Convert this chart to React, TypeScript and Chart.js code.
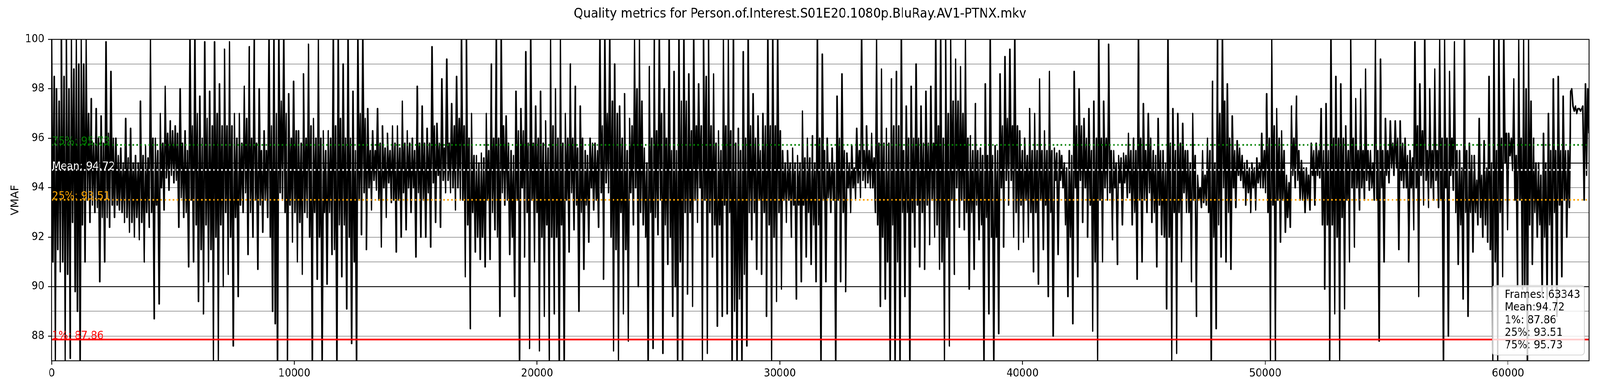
import React, { useEffect, useRef } from 'react';
import { Chart, registerables } from 'chart.js';

Chart.register(...registerables);

const TITLE = 'Quality metrics for Person.of.Interest.S01E20.1080p.BluRay.AV1-PTNX.mkv';
const Y_LABEL = 'VMAF';
const X_MAX = 63342;
const X_TICKS = [0, 10000, 20000, 30000, 40000, 50000, 60000];
const Y_MIN = 87;
const Y_MAX = 100;
const Y_GRID = [87, 88, 89, 90, 91, 92, 93, 94, 95, 96, 97, 98, 99, 100];
const Y_LABELED = [88, 90, 92, 94, 96, 98, 100];
const Y_DARK = [90, 95];

const REF_NAMES = ['75%', 'Mean', '25%', '1%'];
const REF_VALUES = [95.73, 94.72, 93.51, 87.86];
const REF_COLORS = ['#008000', '#ffffff', '#ffa500', '#ff0000'];
const REF_DOTTED = [true, true, true, false];

const STATS_LINES = ['Frames: 63343', 'Mean:94.72', '1%: 87.86', '25%: 93.51', '75%: 95.73'];

// VMAF trace, four samples per ~200 frames, in drawing order
const SEG_0 = [
  100, 91.0, 98.5, 87, 98.0, 91.5, 97.5, 90.6, 100, 91.0, 98.5, 87, 100, 90.5, 98.0, 87.1,
  100, 92.6, 98.8, 89.8, 100, 89.0, 99.0, 87, 100, 92.5, 99.0, 91.0, 100, 93.5, 97.0, 92.6,
  97.6, 93.3, 95.8, 93.0, 97.2, 93.2, 96.0, 90.2, 96.9, 92.8, 95.8, 91.0, 99.9, 92.8, 96.2, 92.4,
  98.7, 93.3, 96.0, 92.8, 96.0, 93.3, 95.3, 93.1, 95.6, 93.0, 95.0, 92.6, 96.8, 92.8, 95.2, 92.2,
  96.4, 92.6, 95.0, 92.0, 95.3, 92.8, 95.0, 91.9, 97.5, 92.6, 95.3, 91.0, 95.7, 93.0, 95.2, 92.4,
  100, 93.0, 96.0, 88.7, 96.0, 93.3, 95.5, 89.3, 97.0, 94.0, 95.8, 93.1, 98.1, 94.4, 96.2, 93.9,
  96.7, 94.5, 96.3, 94.2, 96.5, 94.3, 96.2, 92.4, 98.0, 93.6, 95.8, 92.8, 96.3, 93.0, 95.5, 90.8,
  100, 93.5, 96.5, 91.0, 100, 92.5, 97.0, 89.4, 97.7, 91.5, 96.0, 88.9, 99.9, 92.5, 96.8, 90.2,
  97.9, 91.5, 96.5, 87, 99.9, 92.0, 97.0, 87, 98.2, 92.5, 96.5, 90.0, 99.6, 93.0, 96.5, 90.5,
  99.9, 92.0, 96.5, 87.6, 97.0, 92.8, 96.0, 89.6, 97.0, 93.3, 95.8, 93.0,
];
const SEG_1 = [
  98.1, 93.8, 96.8, 91.3, 99.7, 93.0, 96.0, 92.0, 100, 93.5, 95.8, 90.7, 98.0, 93.3, 95.5, 92.2,
  96.3, 93.5, 95.5, 92.8, 100, 92.0, 96.5, 89.0, 100, 88.5, 97.0, 87, 100, 93.8, 97.5, 93.5,
  100, 93.0, 97.0, 87, 97.8, 93.3, 96.0, 91.8, 98.3, 93.0, 96.3, 91.0, 96.3, 92.6, 95.8, 90.5,
  98.6, 93.0, 96.0, 92.8, 99.8, 92.0, 96.5, 87, 96.8, 93.0, 96.0, 90.3, 100, 92.0, 96.0, 87,
  96.3, 93.0, 95.5, 90.1, 96.3, 93.0, 96.0, 91.3, 100, 91.5, 96.5, 87, 100, 92.5, 96.8, 90.4,
  99.0, 92.5, 96.0, 89.1, 100, 92.0, 96.0, 87.7, 97.9, 91.0, 95.5, 87, 100, 93.5, 97.0, 92.1,
  100, 93.8, 96.8, 91.5, 97.2, 94.0, 95.5, 93.1, 96.3, 94.3, 95.5, 93.9, 97.2, 93.5, 95.8, 91.6,
  96.5, 94.0, 95.6, 92.8, 96.2, 94.2, 95.5, 93.4, 96.5, 93.5, 95.8, 91.4, 96.5, 93.5, 95.6, 92.0,
  97.5, 93.8, 95.8, 92.3, 96.3, 94.0, 95.8, 93.0, 96.0, 94.0, 95.5, 91.2, 98.1, 93.8, 95.8, 92.0,
  97.3, 93.5, 95.8, 92.0, 96.4, 93.8, 95.8, 91.6, 99.7, 94.2, 96.5, 92.6,
];
const SEG_2 = [
  96.6, 94.5, 95.8, 92.4, 98.4, 94.3, 95.6, 93.8, 99.2, 94.3, 95.8, 93.8, 97.4, 94.0, 96.5, 93.1,
  98.5, 94.0, 96.8, 93.5, 100, 93.5, 96.5, 90.4, 100, 92.5, 96.0, 88.3, 97.0, 93.0, 95.3, 91.4,
  95.3, 92.0, 95.0, 91.1, 95.4, 92.0, 95.2, 90.8, 97.0, 93.5, 95.5, 91.1, 99.0, 93.0, 96.0, 92.3,
  100, 92.0, 96.0, 88.8, 100, 93.8, 96.5, 93.3, 96.9, 93.5, 95.8, 91.3, 95.5, 92.0, 95.3, 89.6,
  97.9, 93.5, 96.3, 87, 97.2, 94.0, 96.3, 91.2, 99.5, 93.0, 95.8, 87.5, 100, 93.5, 95.8, 91.0,
  97.3, 93.0, 96.0, 87.4, 97.9, 92.0, 95.8, 88.8, 96.7, 92.5, 95.6, 87, 100, 92.0, 96.5, 88.9,
  98.0, 92.0, 96.0, 87, 100, 92.5, 95.8, 87, 97.0, 93.5, 96.0, 91.4, 99.0, 93.8, 96.0, 92.3,
  98.1, 93.3, 95.6, 89.0, 97.3, 93.0, 96.0, 90.7, 95.5, 93.3, 95.3, 91.8, 96.0, 94.0, 95.8, 93.1,
  95.8, 93.5, 95.5, 92.4, 100, 93.8, 96.5, 90.3, 100, 94.2, 97.0, 93.8, 100, 92.0, 97.5, 87.4,
  99.0, 91.5, 97.0, 87, 97.3, 93.0, 96.0, 88.9, 97.8, 91.5, 95.5, 87.8,
];
const SEG_3 = [
  96.8, 93.8, 96.5, 92.5, 100, 94.0, 98.0, 90.0, 100, 93.0, 97.5, 92.5, 95.6, 92.0, 95.0, 87,
  98.9, 93.0, 96.0, 87.5, 100, 92.8, 96.3, 92.1, 100, 93.5, 97.0, 87.3, 98.0, 92.5, 96.0, 90.9,
  100, 92.0, 95.5, 88.8, 98.7, 90.0, 95.5, 87, 100, 91.0, 97.5, 87, 100, 93.0, 97.5, 89.7,
  98.6, 93.0, 96.3, 89.2, 100, 93.5, 96.5, 92.6, 98.2, 94.0, 96.5, 87, 100, 93.5, 98.5, 87.3,
  100, 93.0, 96.5, 91.2, 98.6, 92.5, 95.8, 88.4, 96.3, 92.5, 95.5, 88.8, 100, 93.3, 96.5, 88.9,
  100, 93.0, 96.3, 87, 100, 89.0, 95.8, 87, 96.4, 89.5, 95.5, 87, 99.5, 90.5, 96.0, 87.6,
  100, 93.0, 96.5, 91.9, 97.8, 93.0, 96.0, 90.7, 96.9, 93.5, 95.5, 90.5, 97.0, 93.0, 96.5, 88.8,
  100, 92.5, 96.5, 87, 100, 92.0, 96.5, 89.4, 100, 93.0, 96.3, 89.9, 95.5, 93.5, 95.0, 92.6,
  95.5, 93.5, 95.0, 92.0, 95.6, 93.3, 95.0, 89.5, 95.3, 93.3, 95.0, 90.2, 97.1, 93.3, 95.2, 91.2,
  96.0, 93.0, 95.2, 90.9, 96.1, 92.5, 95.0, 90.2, 100, 92.5, 96.0, 87,
];
const SEG_4 = [
  99.4, 93.5, 95.5, 90.2, 96.0, 93.6, 95.0, 93.0, 95.6, 93.5, 95.0, 87, 97.7, 93.5, 96.0, 90.2,
  98.6, 93.0, 95.5, 89.8, 95.4, 94.0, 95.0, 93.0, 95.7, 94.0, 94.8, 93.5, 96.4, 94.2, 95.5, 93.6,
  100, 94.3, 95.5, 94.0, 96.5, 94.2, 95.5, 94.0, 96.2, 94.0, 95.2, 93.0, 100, 92.5, 95.8, 89.2,
  98.8, 92.0, 95.8, 89.5, 96.4, 91.0, 95.8, 87, 98.4, 92.5, 96.5, 87, 98.7, 91.0, 96.5, 87,
  100, 93.0, 95.5, 89.6, 97.3, 93.0, 96.0, 87, 98.1, 93.0, 96.0, 91.6, 99.0, 93.3, 96.0, 90.8,
  97.3, 93.0, 95.8, 90.7, 97.9, 93.3, 95.8, 91.7, 98.1, 93.5, 95.8, 92.0, 100, 92.5, 96.5, 90.7,
  100, 91.0, 96.0, 87, 100, 92.0, 97.0, 87.6, 100, 93.5, 97.5, 90.5, 99.2, 94.0, 97.5, 92.4,
  98.9, 93.5, 97.0, 92.3, 100, 93.0, 96.0, 89.9, 96.1, 93.0, 95.5, 90.7, 97.4, 93.3, 95.5, 91.9,
  95.6, 92.5, 95.3, 87, 98.2, 92.8, 95.3, 88.9, 100, 92.0, 95.3, 87, 95.7, 92.0, 95.5, 88.1,
  98.6, 94.0, 96.5, 91.6, 99.3, 94.3, 96.8, 93.3, 99.6, 94.3, 96.5, 92.0,
];
const SEG_5 = [
  100, 93.0, 96.5, 91.5, 96.3, 93.3, 95.5, 91.8, 96.0, 93.5, 95.3, 92.0, 97.2, 93.0, 95.5, 90.6,
  97.0, 93.0, 95.5, 90.1, 98.4, 93.5, 95.5, 91.5, 96.3, 93.3, 95.5, 89.6, 98.7, 93.0, 95.5, 88.0,
  95.6, 94.3, 95.4, 91.3, 95.5, 94.3, 95.3, 94.0, 95.0, 92.5, 94.8, 89.6, 95.5, 92.0, 95.3, 88.5,
  98.7, 94.0, 96.5, 90.4, 98.0, 94.3, 96.5, 92.6, 96.8, 94.0, 96.0, 92.0, 97.2, 93.3, 95.5, 88.2,
  97.5, 91.0, 96.0, 87, 100, 93.5, 96.0, 91.0, 97.5, 94.0, 96.0, 93.5, 99.8, 93.8, 95.5, 91.9,
  95.5, 94.0, 95.0, 90.9, 95.3, 94.2, 95.2, 92.5, 95.4, 94.2, 95.3, 93.6, 96.2, 93.8, 95.5, 92.5,
  96.0, 93.0, 95.5, 90.3, 100, 93.5, 96.0, 91.0, 97.4, 93.5, 95.5, 93.0, 97.0, 93.8, 96.0, 92.6,
  95.5, 93.0, 95.3, 90.8, 96.8, 93.3, 95.5, 92.1, 95.5, 92.0, 95.0, 89.1, 100, 92.0, 95.8, 87,
  97.2, 93.0, 95.5, 87.3, 97.0, 93.0, 95.8, 91.0, 96.6, 93.8, 95.5, 93.0, 95.5, 93.0, 95.0, 90.2,
  97.0, 93.5, 95.3, 88.8, 94.5, 93.5, 94.0, 93.2, 95.5, 93.4, 94.5, 93.3,
];
const SEG_6 = [
  96.0, 93.0, 95.5, 87, 98.3, 92.0, 95.0, 88.3, 100, 92.5, 97.0, 91.2, 100, 94.0, 97.5, 91.0,
  98.2, 93.0, 96.0, 90.7, 96.9, 94.0, 95.5, 93.2, 95.9, 94.5, 95.6, 94.3, 95.3, 94.0, 95.0, 93.3,
  95.1, 93.8, 94.8, 93.0, 95.0, 94.0, 94.8, 93.1, 95.2, 94.2, 95.0, 94.0, 96.2, 94.0, 95.5, 93.8,
  97.8, 93.0, 96.0, 87, 100, 93.3, 96.5, 87, 97.2, 93.5, 96.0, 91.8, 96.3, 93.5, 95.5, 92.2,
  94.5, 92.8, 94.2, 92.4, 97.3, 94.5, 96.0, 94.0, 97.7, 94.3, 95.5, 93.5, 95.1, 93.5, 94.8, 93.0,
  94.8, 93.5, 94.5, 93.1, 95.8, 94.5, 95.5, 93.3, 95.8, 94.5, 95.5, 94.4, 97.2, 92.5, 95.5, 89.9,
  97.4, 92.5, 95.5, 87, 100, 92.5, 96.0, 88.9, 98.5, 92.0, 96.0, 87, 98.2, 92.8, 96.0, 89.1,
  96.5, 93.5, 95.5, 91.0, 100, 94.0, 96.0, 91.6, 97.6, 94.0, 95.5, 93.1, 98.0, 94.0, 95.5, 93.5,
  98.8, 94.3, 95.5, 93.9, 95.5, 94.0, 95.0, 93.5, 100, 93.5, 95.5, 87.8, 99.2, 94.0, 95.5, 91.0,
  96.8, 94.5, 95.5, 94.2, 96.7, 94.8, 95.8, 94.5, 96.7, 94.8, 96.0, 91.5,
];
const SEG_7 = [
  96.7, 94.3, 95.8, 94.0, 96.0, 94.0, 95.3, 91.0, 95.5, 94.0, 95.2, 92.3, 99.9, 94.0, 96.5, 89.6,
  98.2, 94.5, 96.3, 93.3, 100, 94.3, 95.5, 93.2, 98.0, 94.0, 95.5, 93.5, 98.8, 94.3, 95.5, 93.2,
  100, 93.5, 96.0, 87, 100, 94.0, 96.0, 88.0, 98.7, 94.5, 96.0, 93.9, 99.9, 93.0, 95.5, 90.9,
  95.5, 92.5, 94.8, 89.5, 100, 93.0, 95.5, 88.8, 95.8, 93.0, 95.3, 91.4, 95.3, 93.0, 94.3, 92.5,
  96.8, 92.8, 94.5, 92.0, 95.9, 92.5, 94.8, 91.8, 98.5, 91.5, 95.0, 87, 100, 91.0, 95.5, 87,
  100, 93.0, 96.0, 90.4, 100, 95.0, 96.2, 92.3, 96.2, 95.3, 96.0, 94.7, 98.4, 93.5, 95.3, 90.0,
  100, 93.5, 96.0, 89.9, 100, 90.0, 98.0, 87, 100, 92.5, 97.5, 90.9, 96.0, 93.0, 95.0, 92.0,
  95.0, 92.5, 94.5, 89.6, 96.2, 92.0, 95.0, 89.5, 97.0, 92.5, 95.5, 89.8, 98.4, 93.0, 95.5, 88.8,
  98.5, 93.3, 95.5, 90.4, 97.7, 93.5, 95.5, 92.0, 95.5, 93.2, 97.9, 98.0, 97.3, 97.1, 97.3, 97.0,
  97.2, 97.2, 97.1, 97.2, 97.3, 93.5, 98.2, 94.5, 98.0, 96.2,
];

const VMAF = [...SEG_0, ...SEG_1, ...SEG_2, ...SEG_3, ...SEG_4, ...SEG_5, ...SEG_6, ...SEG_7];

const FONT = '"DejaVu Sans", "Liberation Sans", sans-serif';
const TICK_PX = 27.8;
const DESIGN_W = 4400;
const DESIGN_H = 1000;

export default function App() {
  const canvasRef = useRef<HTMLCanvasElement | null>(null);
  const sx = typeof window !== 'undefined' && window.innerWidth ? window.innerWidth / DESIGN_W : 1;
  const sy = typeof window !== 'undefined' && window.innerHeight ? window.innerHeight / DESIGN_H : 1;

  useEffect(() => {
    document.documentElement.style.overflow = 'hidden';
    document.body.style.overflow = 'hidden';
    const canvas = canvasRef.current;
    if (!canvas) return;
    const step = X_MAX / (VMAF.length - 1);
    const trace = VMAF.map((v, i) => ({ x: i * step, y: v }));

    const refSets = REF_VALUES.map((v, i) => ({
      label: REF_NAMES[i],
      data: [{ x: 0, y: v }, { x: X_MAX, y: v }],
      borderColor: REF_COLORS[i],
      borderWidth: 4.2,
      borderDash: REF_DOTTED[i] ? [4.2, 6.9] : [],
      borderCapStyle: 'butt' as const,
      pointRadius: 0,
      fill: false,
      clip: 0,
      order: 3 - i,
    }));

    const overlay = {
      id: 'overlay',
      afterDatasetsDraw(chart: any) {
        const { ctx, chartArea: a, scales } = chart;
        const y = scales.y;
        ctx.save();
        ctx.font = `${TICK_PX}px ${FONT}`;
        ctx.textAlign = 'left';
        ctx.textBaseline = 'alphabetic';
        REF_VALUES.forEach((v, i) => {
          ctx.fillStyle = REF_COLORS[i];
          ctx.fillText(`${REF_NAMES[i]}: ${v.toFixed(2)}`, a.left + 1, y.getPixelForValue(v) - 1);
        });
        ctx.strokeStyle = '#000';
        ctx.lineWidth = 2.2;
        ctx.strokeRect(a.left, a.top, a.right - a.left, a.bottom - a.top);
        const bx = 4104, by = 730, bw = 253, bh = 178, r = 8;
        ctx.beginPath();
        ctx.moveTo(bx + r, by);
        ctx.arcTo(bx + bw, by, bx + bw, by + bh, r);
        ctx.arcTo(bx + bw, by + bh, bx, by + bh, r);
        ctx.arcTo(bx, by + bh, bx, by, r);
        ctx.arcTo(bx, by, bx + bw, by, r);
        ctx.closePath();
        ctx.fillStyle = 'rgba(255,255,255,0.8)';
        ctx.fill();
        ctx.strokeStyle = 'rgba(204,204,204,0.8)';
        ctx.lineWidth = 2.2;
        ctx.stroke();
        ctx.fillStyle = '#000';
        STATS_LINES.forEach((t, i) => {
          ctx.fillText(t, 4138, 762 + i * 32.25);
        });
        ctx.restore();
      },
      afterDraw(chart: any) {
        const { ctx, chartArea: a } = chart;
        ctx.save();
        ctx.fillStyle = '#000';
        ctx.font = `33.3px ${FONT}`;
        ctx.textAlign = 'center';
        ctx.textBaseline = 'alphabetic';
        ctx.fillText(TITLE, 2200, 45);
        ctx.translate(50, (a.top + a.bottom) / 2);
        ctx.rotate(-Math.PI / 2);
        ctx.font = `${TICK_PX}px ${FONT}`;
        ctx.fillText(Y_LABEL, 0, 0);
        ctx.restore();
      },
    };

    const chart = new Chart(canvas, {
      type: 'line',
      data: {
        datasets: [
          ...refSets,
          {
            label: 'VMAF',
            data: trace,
            borderColor: '#000000',
            borderWidth: 4.2,
            borderJoinStyle: 'round',
            pointRadius: 0,
            fill: false,
            tension: 0,
            clip: 0,
            order: 10,
          } as any,
        ],
      },
      options: {
        responsive: false,
        animation: false,
        devicePixelRatio: 1,
        events: [],
        layout: { padding: { left: 0, right: 30, top: 100.7, bottom: 0 } },
        plugins: {
          legend: { display: false },
          title: { display: false },
          tooltip: { enabled: false },
        },
        scales: {
          x: {
            type: 'linear',
            min: 0,
            max: X_MAX,
            afterFit: (s: any) => { s.height = 1000 - 922.7; },
            afterBuildTicks: (s: any) => { s.ticks = X_TICKS.map((v) => ({ value: v })); },
            border: { display: false },
            grid: {
              drawOnChartArea: false,
              drawTicks: true,
              tickLength: 10,
              tickColor: '#000',
              tickWidth: 2.2,
            },
            ticks: {
              color: '#000',
              padding: 6,
              maxRotation: 0,
              autoSkip: false,
              font: { family: FONT, size: TICK_PX },
              callback: (v: any) => String(v),
            },
          },
          y: {
            type: 'linear',
            min: Y_MIN,
            max: Y_MAX,
            afterFit: (s: any) => { s.width = 142; },
            afterBuildTicks: (s: any) => { s.ticks = Y_GRID.map((v) => ({ value: v })); },
            border: { display: false },
            grid: {
              drawOnChartArea: true,
              drawTicks: true,
              tickLength: 10,
              color: (c: any) => (Y_DARK.includes(c.tick?.value) ? '#000000' : '#808080'),
              lineWidth: (c: any) => (Y_DARK.includes(c.tick?.value) ? 2.2 : 1.6),
              tickColor: (c: any) => (Y_LABELED.includes(c.tick?.value) ? '#000000' : 'rgba(0,0,0,0)'),
              tickWidth: 2.2,
            },
            ticks: {
              color: '#000',
              padding: 10,
              autoSkip: false,
              font: { family: FONT, size: TICK_PX },
              callback: (v: any) => (Y_LABELED.includes(Number(v)) ? String(v) : ''),
            },
          },
        },
      },
      plugins: [overlay],
    } as any);

    return () => chart.destroy();
  }, []);

  return (
    <div
      style={{
        position: 'absolute',
        left: 0,
        top: 0,
        width: DESIGN_W,
        height: DESIGN_H,
        background: '#ffffff',
        transform: `scale(${sx}, ${sy})`,
        transformOrigin: '0 0',
      }}
    >
      <canvas
        ref={canvasRef}
        width={DESIGN_W}
        height={DESIGN_H}
        style={{ width: DESIGN_W, height: DESIGN_H, display: 'block' }}
      />
    </div>
  );
}
